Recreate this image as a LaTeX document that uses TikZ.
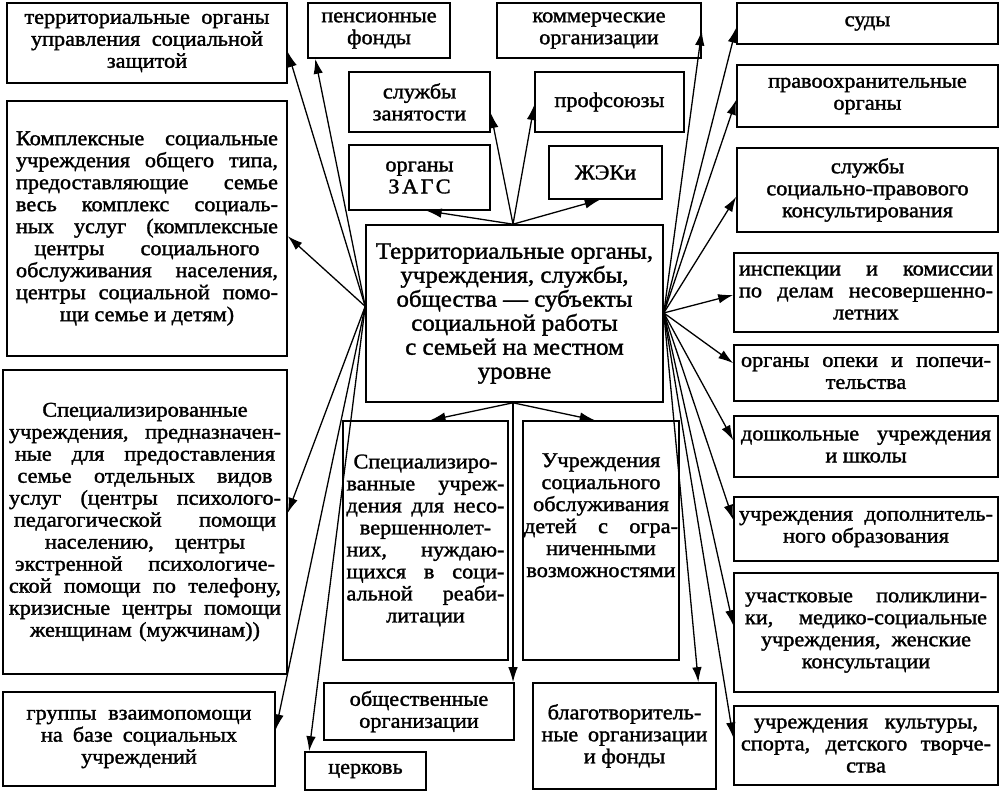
\documentclass[tikz,border=0pt]{standalone}
\usepackage{fontspec}
\setmainfont{Liberation Serif}[FakeStretch=1.06,FakeBold=1.5]
\usetikzlibrary{arrows.meta,calc}
\newcommand\J[1]{{\spaceskip=0pt\xspaceskip=0pt\relax\makebox[\hsize][s]{#1}}}
\newcommand\Jw[2]{{\spaceskip=0pt\xspaceskip=0pt\relax\makebox[#1][s]{#2}}}
\begin{document}
\begin{tikzpicture}[x=1pt,y=-1pt,
  box/.style={draw,line width=1.6pt,inner sep=0pt,align=flush center,
    font=\fontsize{21}{22}\selectfont},
  arr/.style={line width=1.3pt,-{Latex[length=15pt,width=9.5pt]}}]
\useasboundingbox (0,0) rectangle (1001,791);
% top row
\node[box,minimum width=280pt,minimum height=80pt,text width=264pt] (b1) at (147,43)
  {\Jw{245pt}{территориальные органы}\\\Jw{232pt}{управления социальной}\\защитой};
\node[box,minimum width=142pt,minimum height=55pt,text width=134pt] (b2) at (379,30.5)
  {пенсионные\\фонды};
\node[box,minimum width=204pt,minimum height=55pt,text width=190pt] (b3) at (599,30.5)
  {коммерческие\\организации};
\node[box,minimum width=261pt,minimum height=41pt,text width=250pt] (b4) at (867.5,23.5)
  {суды};
\node[box,minimum width=141pt,minimum height=60pt,text width=130pt] (b5) at (419.5,102)
  {службы\\занятости};
\node[box,minimum width=149pt,minimum height=60pt,text width=140pt] (b6) at (609.5,102)
  {профсоюзы};
\node[box,minimum width=261pt,minimum height=62pt,text width=250pt] (b7) at (867.5,96)
  {правоохранительные\\органы};
\node[box,minimum width=141pt,minimum height=65pt,text width=130pt] (b8) at (419.5,177.5)
  {органы\\{\addfontfeature{LetterSpace=12}ЗАГС}};
\node[box,minimum width=113pt,minimum height=53pt,text width=105pt] (b9) at (605.5,172.5)
  {ЖЭКи};
\node[box,minimum width=261pt,minimum height=84pt,text width=250pt] (b10) at (867.5,190)
  {службы\\социально-правового\\консультирования};
% left
\node[box,minimum width=280pt,minimum height=255pt,text width=262pt] (b11) at (147,228.5)
  {\J{Комплексные социальные}\\\J{учреждения общего типа,}\\\J{предоставляющие семье}\\
   \J{весь комплекс социаль-}\\\J{ных услуг (комплексные}\\\Jw{225pt}{центры социального}\\
   \J{обслуживания населения,}\\\J{центры социальной помо-}\\щи семье и детям)};
% centre
\node[box,minimum width=297pt,minimum height=177pt,text width=292pt,
  font=\fontsize{23.5}{24}\selectfont] (c) at (514.5,313.5)
  {Территориальные органы,\\учреждения, службы,\\общества — субъекты\\
   социальной работы\\с семьей на местном\\уровне};
% right column
\node[box,minimum width=264pt,minimum height=79pt,text width=254pt] (b13) at (866,292.5)
  {\J{инспекции и комиссии}\\\J{по делам несовершенно-}\\летних};
\node[box,minimum width=264pt,minimum height=56pt,text width=250pt] (b14) at (866,373)
  {\J{органы опеки и попечи-}\\тельства};
\node[box,minimum width=264pt,minimum height=61pt,text width=250pt] (b15) at (866,446.5)
  {\J{дошкольные учреждения}\\и школы};
\node[box,minimum width=264pt,minimum height=64pt,text width=254pt] (b16) at (866,529)
  {\J{учреждения дополнитель-}\\ного образования};
\node[box,minimum width=264pt,minimum height=119pt,text width=242pt] (b17) at (866,632.5)
  {\J{участковые поликлини-}\\\J{ки, медико-социальные}\\\Jw{210pt}{учреждения, женские}\\консультации};
\node[box,minimum width=264pt,minimum height=79pt,text width=250pt] (b18) at (866,745.5)
  {\Jw{224pt}{учреждения культуры,}\\\J{спорта, детского творче-}\\ства};
% lower left
\node[box,minimum width=284pt,minimum height=304pt,text width=272pt] (b19) at (145,522)
  {Специализированные\\\J{учреждения, предназначен-}\\\Jw{260pt}{ные для предоставления}\\
   \Jw{255pt}{семье отдельных видов}\\\J{услуг (центры психолого-}\\\Jw{262pt}{педагогической помощи}\\
   \Jw{200pt}{населению, центры}\\\Jw{260pt}{экстренной психологиче-}\\\J{ской помощи по телефону,}\\
   \J{кризисные центры помощи}\\\Jw{230pt}{женщинам (мужчинам))}};
\node[box,minimum width=272pt,minimum height=94pt,text width=260pt] (b20) at (139,739)
  {\Jw{225pt}{группы взаимопомощи}\\\Jw{196pt}{на базе социальных}\\учреждений};
% middle lower
\node[box,minimum width=165pt,minimum height=239pt,text width=158pt] (b21) at (425.5,540.5)
  {Специализиро-\\\J{ванные учреж-}\\\J{дения для несо-}\\вершеннолет-\\\J{них, нуждаю-}\\
   \J{щихся в соци-}\\\J{альной реаби-}\\литации};
\node[box,minimum width=156pt,minimum height=239pt,text width=154pt] (b22) at (601,540.5)
  {Учреждения\\социального\\обслуживания\\\J{детей с огра-}\\ниченными\\возможностями\\\strut\\\strut};
\node[box,minimum width=190pt,minimum height=57pt,text width=180pt] (b23) at (419,711.5)
  {общественные\\организации};
\node[box,minimum width=121pt,minimum height=38pt,text width=115pt] (b24) at (365.5,771)
  {церковь};
\node[box,minimum width=183pt,minimum height=106pt,text width=166pt] (b25) at (624.5,736)
  {благотворитель-\\\J{ные организации}\\и фонды};
% hubs
\coordinate (hl) at ($(c.north west)!0.46!(c.south west)$);
\coordinate (ht) at ($(c.north west)!0.495!(c.north east)$);
\coordinate (hr) at ($(c.north east)!0.497!(c.south east)$);
\coordinate (hb) at ($(c.south west)!0.495!(c.south east)$);
% left hub
\draw[arr] (hl) -- ($(b1.north east)!0.61!(b1.south east)$);
\draw[arr] (hl) -- ($(b2.south west)!0.056!(b2.south east)$);
\draw[arr] (hl) -- ($(b11.north east)!0.53!(b11.south east)$);
\draw[arr] (hl) -- ($(b19.north east)!0.47!(b19.south east)$);
\draw[arr] (hl) -- ($(b20.north east)!0.4!(b20.south east)$);
\draw[arr] (hl) -- ($(b24.north west)!0.04!(b24.north east)$);
% top hub
\draw[arr] (ht) -- ($(b5.north east)!0.68!(b5.south east)$);
\draw[arr] (ht) -- ($(b6.north west)!0.55!(b6.south west)$);
\draw[arr] (ht) -- ($(b8.south west)!0.55!(b8.south east)$);
\draw[arr] (ht) -- ($(b9.south west)!0.45!(b9.south east)$);
% right hub
\draw[arr] (hr) -- ($(b3.north east)!0.5!(b3.south east)$);
\draw[arr] (hr) -- ($(b4.north west)!0.6!(b4.south west)$);
\draw[arr] (hr) -- ($(b7.north west)!0.56!(b7.south west)$);
\draw[arr] (hr) -- ($(b10.north west)!0.58!(b10.south west)$);
\draw[arr] (hr) -- ($(b13.north west)!0.53!(b13.south west)$);
\draw[arr] (hr) -- ($(b14.north west)!0.33!(b14.south west)$);
\draw[arr] (hr) -- ($(b15.north west)!0.4!(b15.south west)$);
\draw[arr] (hr) -- ($(b16.north west)!0.36!(b16.south west)$);
\draw[arr] (hr) -- ($(b17.north west)!0.44!(b17.south west)$);
\draw[arr] (hr) -- ($(b18.north west)!0.4!(b18.south west)$);
\draw[arr] (hr) -- ($(b25.north west)!0.9!(b25.north east)$);
% bottom hub
\draw[arr] (hb) -- ($(b21.north west)!0.53!(b21.north east)$);
\draw[arr] (hb) -- ($(b22.north west)!0.46!(b22.north east)$);
\draw[arr] (hb) -- (hb |- b23.north);
\end{tikzpicture}
\end{document}
